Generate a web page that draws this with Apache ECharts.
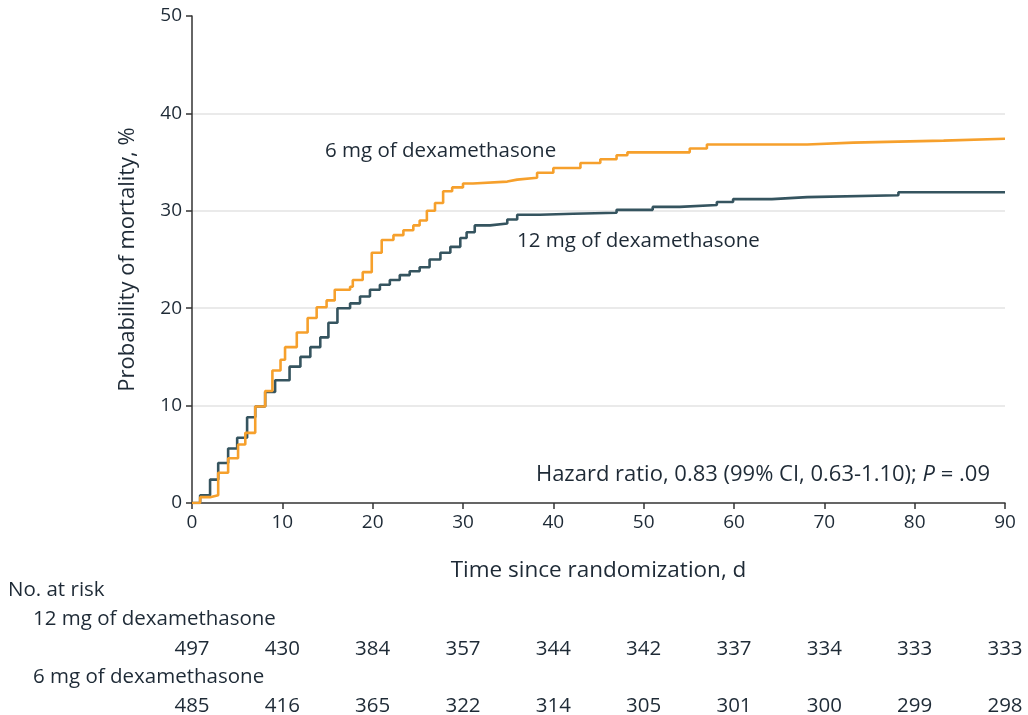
<!DOCTYPE html>
<html>
<head>
<meta charset="utf-8">
<script src="https://cdn.jsdelivr.net/npm/echarts@6/dist/echarts.min.js"></script>
<style>
html,body{margin:0;padding:0;background:#fff;}
#chart{width:1028px;height:715px;}
</style>
</head>
<body>
<div id="chart"></div>
<script>
// ---- data ----
const days12 = [0,0.9,2.0,2.9,4.0,5.0,6.1,7.0,8.1,9.2,10.8,12.0,13.1,14.2,15.1,16.1,17.5,18.6,19.7,20.8,21.9,23.0,24.1,25.2,26.3,27.5,28.6,29.7,30.4,31.3,33.0,34.9,36.0,38.5,42.2,47.0,51.0,54.0,58.1,59.9,64.2,68.1,78.2,90];
const mort12 = [0,0.8,2.4,4.1,5.6,6.7,8.8,9.9,11.4,12.6,14.0,15.0,16.0,17.0,18.5,20.0,20.5,21.2,21.9,22.4,22.9,23.4,23.8,24.2,25.0,25.7,26.3,27.2,27.8,28.5,28.7,29.1,29.6,29.7,29.8,30.1,30.4,30.6,30.9,31.2,31.4,31.6,31.9,31.9];
const days6 = [0,0.9,2.0,2.9,4.0,5.1,5.9,7.0,8.1,8.9,9.8,10.3,11.6,12.8,13.8,14.9,15.8,17.5,17.8,18.9,19.9,21.0,22.3,23.4,24.5,25.2,26.0,26.9,27.8,28.8,30.0,31.1,34.9,36.0,38.2,40.0,43.0,45.2,47.0,48.2,55.1,57.0,68.1,73.2,83.2,90];
const mort6 = [0,0.6,0.8,3.1,4.6,6.0,7.2,9.9,11.5,13.6,14.7,16.0,17.5,19.0,20.1,20.8,21.9,22.2,22.9,23.7,25.7,27.0,27.5,28.0,28.5,29.0,30.0,30.8,32.0,32.4,32.8,33.0,33.2,33.4,33.9,34.4,34.9,35.3,35.7,36.0,36.4,36.8,37.0,37.2,37.4,37.4];
const riskDays = [0,10,20,30,40,50,60,70,80,90];
const risk12 = [497,430,384,357,344,342,337,334,333,333];
const risk6 = [485,416,365,322,314,305,301,300,299,298];

const FONT = '"Open Sans"';
const TXT = '#1e2a36';
const ORANGE = '#f6a02c';
const TEAL = '#35545f';

const zip = (a,b) => a.map((v,i)=>[v,b[i]]);
const riskData = arr => riskDays.map((d,i)=>[d,0,arr[i]]);

const chart = echarts.init(document.getElementById('chart'), null, {renderer:'canvas'});

const baseX = (idx, show) => ({
  type:'value', gridIndex: idx, min:0, max:90, interval:10,
  show: show,
  axisLine:{show:show, lineStyle:{color:'#333', width:1.5}},
  axisTick:{show:show, length:6, lineStyle:{color:'#333', width:1.5}},
  axisLabel:{show:show, fontFamily:FONT, fontSize:19, color:TXT, margin:10},
  splitLine:{show:false}
});

const riskLabel = {show:true, position:'inside', formatter: p => p.data[2],
  fontFamily:FONT, fontSize:20.5, color:TXT, opacity:1};

chart.setOption({
  animation:false,
  backgroundColor:'#fff',
  grid:[
    {left:192, right:23, top:16, bottom:212},
    {left:192, right:23, top:641, height:16},
    {left:192, right:23, top:698, height:16}
  ],
  xAxis:[
    Object.assign(baseX(0,true), {
      name:'Time since randomization, d', nameLocation:'middle', nameGap:56,
      nameTextStyle:{fontFamily:FONT, fontSize:22.5, color:TXT}
    }),
    baseX(1,false),
    baseX(2,false)
  ],
  yAxis:[
    {
      type:'value', gridIndex:0, min:0, max:50, interval:10,
      name:'Probability of mortality, %', nameLocation:'middle', nameGap:53, nameRotate:90,
      nameTextStyle:{fontFamily:FONT, fontSize:22, color:TXT},
      axisLine:{show:true, lineStyle:{color:'#333', width:1.5}},
      axisTick:{show:true, length:6, lineStyle:{color:'#333', width:1.5}},
      axisLabel:{fontFamily:FONT, fontSize:19, color:TXT, margin:10},
      splitLine:{show:true, showMinLine:false, showMaxLine:false, lineStyle:{color:'#e3e3e3', width:1.5}}
    },
    {type:'value', gridIndex:1, min:-1, max:1, show:false},
    {type:'value', gridIndex:2, min:-1, max:1, show:false}
  ],
  series:[
    {
      name:'12 mg of dexamethasone', type:'line', step:'end', xAxisIndex:0, yAxisIndex:0,
      data: zip(days12, mort12), showSymbol:false,
      lineStyle:{color:TEAL, width:2.6}, itemStyle:{color:TEAL}, z:3
    },
    {
      name:'6 mg of dexamethasone', type:'line', step:'end', xAxisIndex:0, yAxisIndex:0,
      data: zip(days6, mort6), showSymbol:false,
      lineStyle:{color:ORANGE, width:2.6}, itemStyle:{color:ORANGE}, z:4
    },
    {
      type:'scatter', xAxisIndex:1, yAxisIndex:1, data: riskData(risk12),
      symbolSize:1, itemStyle:{color:'rgba(0,0,0,0)', opacity:1}, silent:true,
      label:riskLabel
    },
    {
      type:'scatter', xAxisIndex:2, yAxisIndex:2, data: riskData(risk6),
      symbolSize:1, itemStyle:{color:'rgba(0,0,0,0)', opacity:1}, silent:true,
      label:riskLabel
    }
  ],
  graphic:[
    {type:'text', left:325, top:141, style:{text:'6 mg of dexamethasone', fontFamily:FONT, fontSize:20.5, fill:TXT}},
    {type:'text', left:517, top:231, style:{text:'12 mg of dexamethasone', fontFamily:FONT, fontSize:20.5, fill:TXT}},
    {type:'text', right:38, top:464, style:{
      text:'{a|Hazard ratio, 0.83 (99% CI, 0.63-1.10); }{i|P}{a| = .09}',
      rich:{a:{fontFamily:FONT, fontSize:22, fill:TXT}, i:{fontFamily:FONT, fontSize:22, fontStyle:'italic', fill:TXT}}
    }},
    {type:'text', left:8, top:580, style:{text:'No. at risk', fontFamily:FONT, fontSize:20.5, fill:TXT}},
    {type:'text', left:33, top:609, style:{text:'12 mg of dexamethasone', fontFamily:FONT, fontSize:20.5, fill:TXT}},
    {type:'text', left:33, top:667, style:{text:'6 mg of dexamethasone', fontFamily:FONT, fontSize:20.5, fill:TXT}}
  ]
});
</script>
</body>
</html>
